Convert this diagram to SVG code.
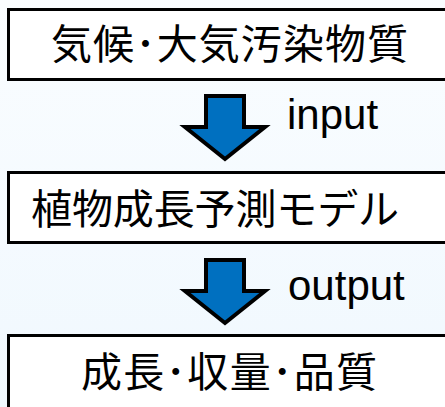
<svg xmlns="http://www.w3.org/2000/svg" xmlns:xlink="http://www.w3.org/1999/xlink" width="445" height="407" viewBox="0 0 445 407">
  <style>
    .box { fill: #ffffff; stroke: #000000; stroke-width: 3; }
    .jp { font-family: "Noto Sans CJK JP", "Noto Sans CJK SC", sans-serif; font-size: 41px; fill: #000000; }
    .lbl { font-family: "Liberation Sans", Arial, sans-serif; font-size: 42px; fill: #000000; }
    .arrow { fill: #0070c0; stroke: #000000; stroke-width: 4; stroke-linejoin: miter; stroke-miterlimit: 10; }
  </style>
  <defs>
    <linearGradient id="bg" x1="0" y1="0" x2="0" y2="1">
      <stop offset="0" stop-color="#fafdff"/>
      <stop offset="1" stop-color="#f0f8fe"/>
    </linearGradient>
    <path id="downArrow" d="M206,0 L244,0 L244,31 L265,31 L225,63 L185,31 L206,31 Z"/>
  </defs>
  <rect x="0" y="0" width="445" height="407" fill="url(#bg)"/>

  <g id="connectors">
    <use xlink:href="#downArrow" class="arrow" transform="translate(0,96)"/>
    <text class="lbl" x="287" y="129">input</text>
    <use xlink:href="#downArrow" class="arrow" transform="translate(0,260)"/>
    <text class="lbl" x="288" y="300">output</text>
  </g>

  <g id="node-input">
    <rect class="box" x="8.5" y="9.5" width="450" height="70"/>
    <text class="jp" x="51" y="59" textLength="357" lengthAdjust="spacing">気候･大気汚染物質</text>
  </g>

  <g id="node-model">
    <rect class="box" x="8.5" y="172.5" width="450" height="70"/>
    <text class="jp" x="31" y="224" textLength="368" lengthAdjust="spacing">植物成長予測モデル</text>
  </g>

  <g id="node-output">
    <rect class="box" x="8.5" y="335.5" width="450" height="90"/>
    <text class="jp" x="81" y="387" textLength="296" lengthAdjust="spacing">成長･収量･品質</text>
  </g>
</svg>
